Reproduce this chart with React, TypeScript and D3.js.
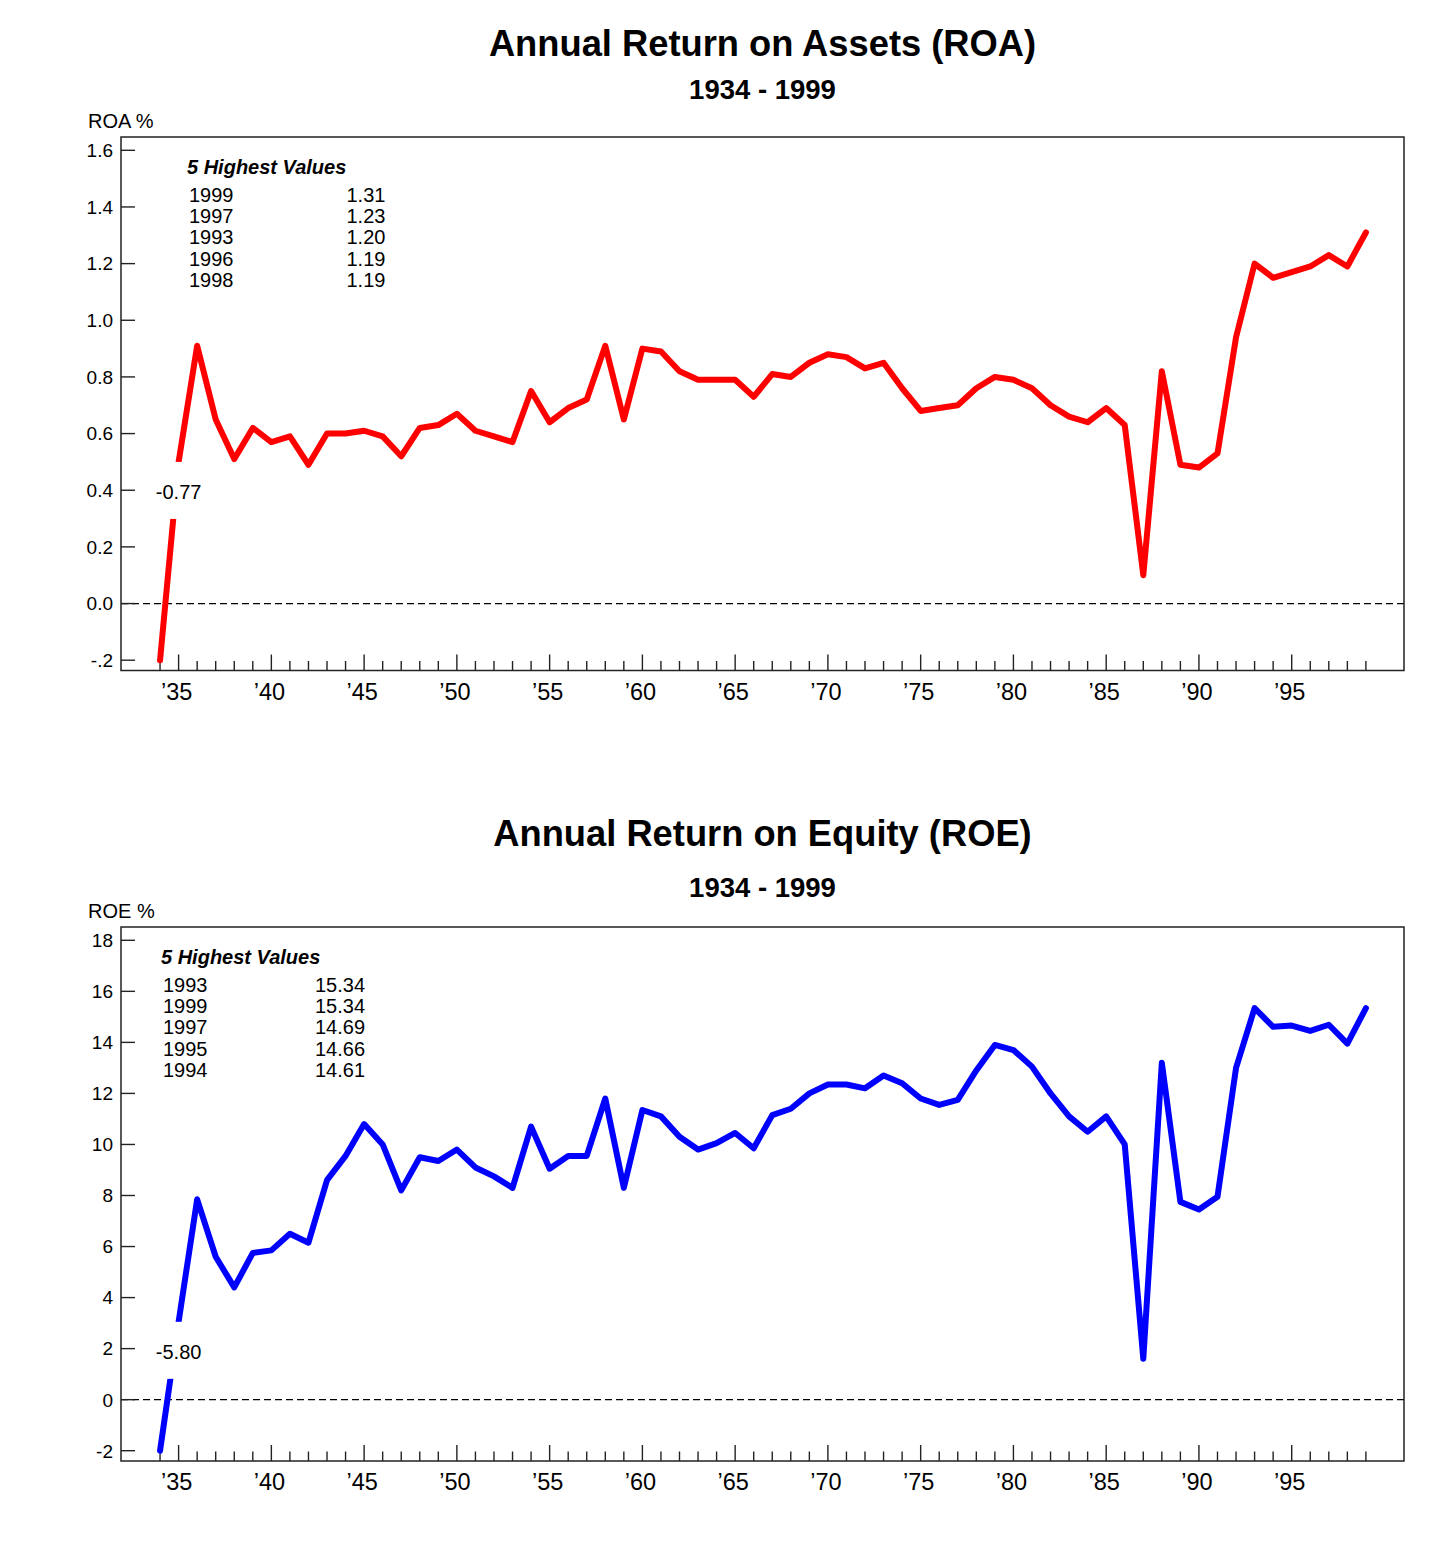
import React, { useEffect, useRef } from 'react';
import * as d3 from 'd3';

const firstYear = 1934;

// annual ROA %, 1934 - 1999
const roaValues = [
  -0.77, 0.50, 0.91, 0.65, 0.51, 0.62, 0.57, 0.59, 0.49, 0.60,
  0.60, 0.61, 0.59, 0.52, 0.62, 0.63, 0.67, 0.61, 0.59, 0.57,
  0.75, 0.64, 0.69, 0.72, 0.91, 0.65, 0.90, 0.89, 0.82, 0.79,
  0.79, 0.79, 0.73, 0.81, 0.80, 0.85, 0.88, 0.87, 0.83, 0.85,
  0.76, 0.68, 0.69, 0.70, 0.76, 0.80, 0.79, 0.76, 0.70, 0.66,
  0.64, 0.69, 0.63, 0.10, 0.82, 0.49, 0.48, 0.53, 0.94, 1.20,
  1.15, 1.17, 1.19, 1.23, 1.19, 1.31
];

// annual ROE %, 1934 - 1999
const roeValues = [
  -5.80, 3.05, 7.85, 5.60, 4.40, 5.75, 5.85, 6.50, 6.15, 8.60,
  9.55, 10.80, 10.00, 8.20, 9.50, 9.35, 9.80, 9.10, 8.75, 8.30,
  10.70, 9.05, 9.55, 9.55, 11.80, 8.30, 11.35, 11.10, 10.30, 9.80,
  10.05, 10.45, 9.85, 11.15, 11.40, 12.00, 12.35, 12.35, 12.20, 12.70,
  12.40, 11.80, 11.55, 11.75, 12.90, 13.90, 13.70, 13.05, 12.00, 11.10,
  10.50, 11.10, 10.00, 1.60, 13.20, 7.75, 7.45, 7.95, 13.00, 15.34,
  14.61, 14.66, 14.45, 14.69, 13.95, 15.34
];

const roaTicks = [-0.2, 0, 0.2, 0.4, 0.6, 0.8, 1.0, 1.2, 1.4, 1.6];
const roaTickLabels = ['-.2', '0.0', '0.2', '0.4', '0.6', '0.8', '1.0', '1.2', '1.4', '1.6'];
const roeTicks = [-2, 0, 2, 4, 6, 8, 10, 12, 14, 16, 18];
const roeTickLabels = ['-2', '0', '2', '4', '6', '8', '10', '12', '14', '16', '18'];

const majorYears = [1935, 1940, 1945, 1950, 1955, 1960, 1965, 1970, 1975, 1980, 1985, 1990, 1995];
const majorLabels = ['’35', '’40', '’45', '’50', '’55', '’60', '’65', '’70', '’75', '’80', '’85', '’90', '’95'];

const FONT = '"Liberation Sans", Arial, Helvetica, sans-serif';
const INK = '#222';

interface PanelProps {
  values: number[];
  color: string;
  yTicks: number[];
  yTickLabels: string[];
  title: string;
  subtitle: string;
  yLabel: string;
  frameTop: number;
  frameBottom: number;
  titleY: number;
  subtitleY: number;
  legendX: number;
  legendValueX: number;
}

const frameLeft = 121;
const frameRight = 1404;

const ReturnPanel: React.FC<PanelProps> = ({
  values, color, yTicks, yTickLabels, title, subtitle, yLabel,
  frameTop, frameBottom, titleY, subtitleY, legendX, legendValueX
}) => {
  const gRef = useRef<SVGGElement>(null);

  useEffect(() => {
    if (!gRef.current) return;
    const g = d3.select(gRef.current);
    g.selectAll('*').remove();

    const years = values.map((_, i) => firstYear + i);
    const yMin = yTicks[0];
    const yMax = yTicks[yTicks.length - 1];

    const x = d3.scaleLinear().domain([1935, 1995]).range([178.6, 1291.7]);
    const y = d3.scaleLinear().domain([yMin, yMax]).range([frameBottom - 10.3, frameTop + 13.3]);
    const midX = (frameLeft + frameRight) / 2;

    // Titles
    g.append('text')
      .attr('x', midX).attr('y', titleY)
      .attr('text-anchor', 'middle')
      .attr('font-family', FONT).attr('font-size', 36.3).attr('font-weight', 'bold')
      .text(title);

    g.append('text')
      .attr('x', midX).attr('y', subtitleY)
      .attr('text-anchor', 'middle')
      .attr('font-family', FONT).attr('font-size', 27.5).attr('font-weight', 'bold')
      .text(subtitle);

    g.append('text')
      .attr('x', 88).attr('y', frameTop - 9)
      .attr('font-family', FONT).attr('font-size', 20)
      .text(yLabel);

    // Zero reference line
    g.append('line')
      .attr('x1', frameLeft).attr('x2', frameRight)
      .attr('y1', y(0)).attr('y2', y(0))
      .attr('stroke', '#000').attr('stroke-width', 1.3)
      .attr('stroke-dasharray', '7,4');

    // Y ticks (inside) and labels
    yTicks.forEach((t, i) => {
      g.append('line')
        .attr('x1', frameLeft).attr('x2', frameLeft + 14)
        .attr('y1', y(t)).attr('y2', y(t))
        .attr('stroke', INK).attr('stroke-width', 1.4);
      g.append('text')
        .attr('x', frameLeft - 8).attr('y', y(t))
        .attr('dy', '0.36em')
        .attr('text-anchor', 'end')
        .attr('font-family', FONT).attr('font-size', 19)
        .text(yTickLabels[i]);
    });

    // X ticks: every year, longer every 5 years
    g.selectAll('.xtick')
      .data(years)
      .enter()
      .append('line')
      .attr('class', 'xtick')
      .attr('x1', d => x(d)).attr('x2', d => x(d))
      .attr('y1', frameBottom)
      .attr('y2', d => frameBottom - (majorYears.includes(d) ? 16 : 9.5))
      .attr('stroke', INK).attr('stroke-width', 1.4);

    majorYears.forEach((yr, i) => {
      g.append('text')
        .attr('x', x(yr) - 2).attr('y', frameBottom + 29)
        .attr('text-anchor', 'middle')
        .attr('font-family', FONT).attr('font-size', 23.5)
        .text(majorLabels[i]);
    });

    // Series line, off-scale values pinned to the axis minimum
    const line = d3.line<number>()
      .x((_, i) => x(years[i]))
      .y(d => y(Math.max(d, yMin)));

    g.append('path')
      .datum(values)
      .attr('fill', 'none')
      .attr('stroke', color)
      .attr('stroke-width', 6)
      .attr('stroke-linejoin', 'round')
      .attr('stroke-linecap', 'round')
      .attr('d', line);

    // Label for the off-scale first year
    const lx = x(years[1]);
    const ly = y(values[1]);
    g.append('rect')
      .attr('x', lx - 27).attr('y', ly)
      .attr('width', 54).attr('height', 57)
      .attr('fill', '#fff');
    g.append('text')
      .attr('x', lx).attr('y', ly + 37.5)
      .attr('text-anchor', 'middle')
      .attr('font-family', FONT).attr('font-size', 20)
      .text(values[0].toFixed(2));

    // Frame
    g.append('rect')
      .attr('x', frameLeft).attr('y', frameTop)
      .attr('width', frameRight - frameLeft)
      .attr('height', frameBottom - frameTop)
      .attr('fill', 'none')
      .attr('stroke', INK).attr('stroke-width', 1.5);

    // 5 highest values
    const top5 = d3.sort(years.map((yr, i) => ({ yr, v: values[i] })), (a, b) => b.v - a.v).slice(0, 5);

    g.append('text')
      .attr('x', legendX).attr('y', frameTop + 37)
      .attr('font-family', FONT).attr('font-size', 20)
      .attr('font-weight', 'bold').attr('font-style', 'italic')
      .text('5 Highest Values');

    top5.forEach((d, i) => {
      const rowY = frameTop + 64.7 + i * 21.3;
      g.append('text')
        .attr('x', legendX + 2).attr('y', rowY)
        .attr('font-family', FONT).attr('font-size', 20)
        .text(String(d.yr));
      g.append('text')
        .attr('x', legendValueX).attr('y', rowY)
        .attr('font-family', FONT).attr('font-size', 20)
        .text(d.v.toFixed(2));
    });
  }, [values, color, yTicks, yTickLabels, title, subtitle, yLabel, frameTop, frameBottom, titleY, subtitleY, legendX, legendValueX]);

  return <g ref={gRef} />;
};

export default function App() {
  return (
    <svg
      width={1456}
      height={1556}
      style={{ position: 'absolute', left: 0, top: 0, background: '#fff' }}
    >
      <rect x={0} y={0} width={1456} height={1556} fill="#fff" />
      <ReturnPanel
        values={roaValues}
        color="#ff0000"
        yTicks={roaTicks}
        yTickLabels={roaTickLabels}
        title="Annual Return on Assets (ROA)"
        subtitle="1934 - 1999"
        yLabel="ROA %"
        frameTop={137}
        frameBottom={670.5}
        titleY={56}
        subtitleY={99}
        legendX={187}
        legendValueX={346.5}
      />
      <ReturnPanel
        values={roeValues}
        color="#0000ff"
        yTicks={roeTicks}
        yTickLabels={roeTickLabels}
        title="Annual Return on Equity (ROE)"
        subtitle="1934 - 1999"
        yLabel="ROE %"
        frameTop={927}
        frameBottom={1461}
        titleY={846}
        subtitleY={897}
        legendX={161}
        legendValueX={315}
      />
    </svg>
  );
}
